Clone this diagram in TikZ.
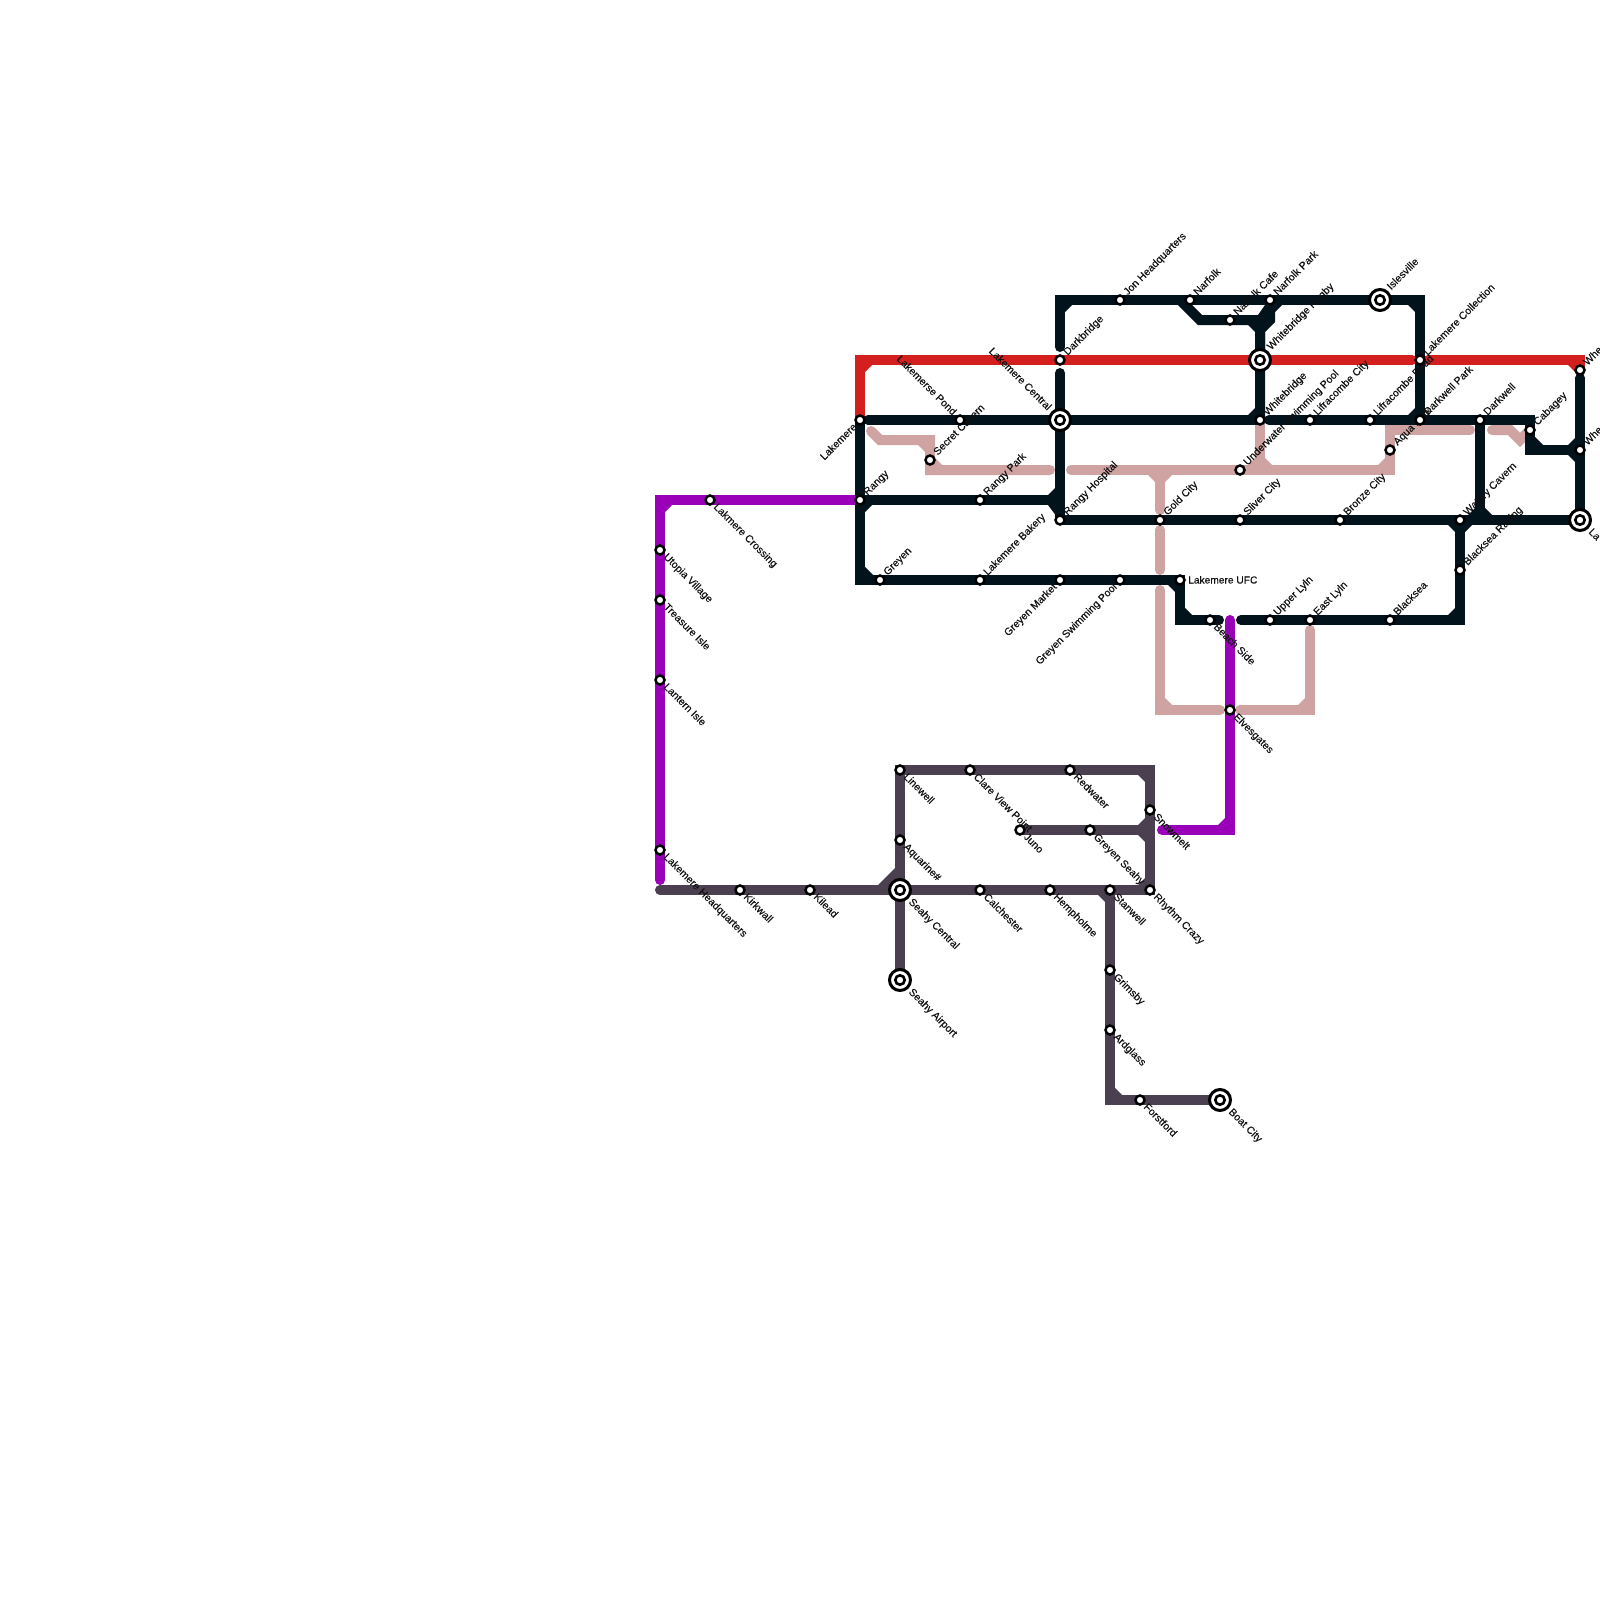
\documentclass[tikz,border=0pt]{standalone}
\usepackage{fontspec}
\setmainfont{Liberation Sans}
\newfontfamily\lblfont[FakeBold=0.25]{Liberation Sans}
\usetikzlibrary{calc}
\pgfdeclarelayer{bg}
\pgfsetlayers{bg,main}
\definecolor{cdark}{HTML}{03131C}
\definecolor{cred}{HTML}{D41F1F}
\definecolor{cpink}{HTML}{D0A3A3}
\definecolor{cpurple}{HTML}{9900B8}
\definecolor{cgrey}{HTML}{4B404F}
\definecolor{ctext}{HTML}{111111}
\tikzset{
  route/.style={line width=10pt,line cap=round,line join=miter},
  stopnode/.style={circle,draw=black,fill=white,line width=2.5pt,minimum size=9pt,inner sep=0pt},
  hubnode/.style={circle,draw=black,fill=white,line width=3pt,minimum size=21pt,inner sep=0pt,
    path picture={\draw[black,line width=2.6pt] (path picture bounding box.center) circle (4.7pt);}},
  lbl/.style={inner sep=0pt,text=ctext,font=\lblfont\fontsize{10.5}{12}\selectfont},
  lur/.style={xshift=7.5pt,yshift=4pt,rotate=45,anchor=base west},
  ldr/.style={xshift=3pt,yshift=-7.5pt,rotate=-45,anchor=base west},
  ldl/.style={xshift=-2.5pt,yshift=-7.5pt,rotate=45,anchor=base east},
  lul/.style={xshift=-7.5pt,yshift=4pt,rotate=-45,anchor=base east},
  lrt/.style={xshift=8pt,yshift=-3.5pt,anchor=base west,font=\lblfont\fontsize{10.2}{12}\selectfont},
  iur/.style={xshift=11pt,yshift=9.5pt,rotate=45,anchor=base west},
  idr/.style={xshift=8pt,yshift=-12.5pt,rotate=-45,anchor=base west},
  iul/.style={xshift=-12.5pt,yshift=9pt,rotate=-45,anchor=base east},
}
\newcommand\stopat[5]{\node[stopnode] (#1) at (#2,#3) {};\node[lbl,#4] (#1-l) at (#1.center) {#5};}
\newcommand\hubat[5]{\node[hubnode] (#1) at (#2,#3) {};\node[lbl,#4] (#1-l) at (#1.center) {#5};}
\newcommand\cham[6][7]{\fill[#2] (#3,#4) -- ++({#5*#1},0) -- ++({-#5*#1},{#6*#1}) -- cycle;}
\begin{document}
\begin{tikzpicture}[x=1pt,y=-1pt]
\useasboundingbox (0,0) rectangle (1600,1600);
% free points of the routes
\foreach \n/\x/\y in {
  rA/860/360, rB/1412/360, rC/1428/360, rD/1580/360,
  p1/871/431, p2/880/440, p3/930/440, p4/930/470, p5/1050/470,
  p6/1071/470, p7/1390/470, p8/1390/430, p9/1470/430,
  p10/1492/430, p11/1510/430, p12/1520/440,
  p13/1260/470, p14/1160/470, p15/1160/510, p16/1160/530, p17/1160/570,
  p18/1160/590, p19/1160/710, p20/1220/710, p21/1240/710, p22/1310/710, p23/1310/630,
  m1/660/500, m2/660/880, m3/1230/620, m4/1230/830, m5/1162/830,
  g1/660/890, g2/1150/770, g3/1150/830, g4/1110/1100,
  d1/1060/347, d2/1060/300, d3/1420/300, d4/1060/373,
  d5/1180/300, d6/1200/320, d7/1260/320, d8/1270/320, d9/1260/330,
  d10/868/420, d11/1269/420, d12/1530/420, d13/1530/450,
  d14/1580/378, d15/1060/500, d16/860/580, d17/1180/620, d18/1219/620,
  d19/1241/620, d20/1460/620, d21/1480/520} {\coordinate (\n) at (\x,\y);}
% stations
\stopat{lakemere}{860}{420}{ldl}{Lakemere}
\stopat{rangy}{860}{500}{lur}{Rangy}
\stopat{greyen}{880}{580}{lur}{Greyen}
\stopat{secret}{930}{460}{lur}{Secret Cavern}
\stopat{pond}{960}{420}{lul}{Lakemerse Pond}
\stopat{rangypark}{980}{500}{lur}{Rangy Park}
\stopat{bakery}{980}{580}{lur}{Lakemere Bakery}
\stopat{darkbridge}{1060}{360}{lur}{Darkbridge}
\hubat{central}{1060}{420}{iul}{Lakemere Central}
\stopat{hospital}{1060}{520}{lur}{Rangy Hospital}
\stopat{market}{1060}{580}{ldl}{Greyen Market}
\stopat{jon}{1120}{300}{lur}{Jon Headquarters}
\stopat{pool}{1120}{580}{ldl}{Greyen Swimming Pool}
\stopat{gold}{1160}{520}{lur}{Gold City}
\stopat{ufc}{1180}{580}{lrt}{Lakemere UFC}
\stopat{narfolk}{1190}{300}{lur}{Narfolk}
\stopat{beach}{1210}{620}{ldr}{Beach Side}
\stopat{cafe}{1230}{320}{lur}{Narfolk Cafe}
\stopat{elves}{1230}{710}{ldr}{Elvesgates}
\stopat{underwater}{1240}{470}{lur}{Underwater Swimming Pool}
\stopat{sliver}{1240}{520}{lur}{Sliver City}
\hubat{rugby}{1260}{360}{iur}{Whitebridge Rugby}
\stopat{whitebridge}{1260}{420}{lur}{Whitebridge}
\stopat{nfpark}{1270}{300}{lur}{Narfolk Park}
\stopat{upper}{1270}{620}{lur}{Upper Lyln}
\stopat{lifcity}{1310}{420}{lur}{Lifracombe City}
\stopat{east}{1310}{620}{lur}{East Lyln}
\stopat{bronze}{1340}{520}{lur}{Bronze City}
\stopat{lifroad}{1370}{420}{lur}{Lifracombe Road}
\hubat{isles}{1380}{300}{iur}{Islesville}
\stopat{aqua}{1390}{450}{lur}{Aqua Park}
\stopat{blacksea}{1390}{620}{lur}{Blacksea}
\stopat{collection}{1420}{360}{lur}{Lakemere Collection}
\stopat{dwpark}{1420}{420}{lur}{Darkwell Park}
\stopat{watery}{1460}{520}{lur}{Watery Cavern}
\stopat{racing}{1460}{570}{lur}{Blacksea Racing}
\stopat{darkwell}{1480}{420}{lur}{Darkwell}
\stopat{cabagey}{1530}{430}{lur}{Cabagey}
\stopat{wheA}{1580}{370}{lur}{Whe}
\stopat{wheB}{1580}{450}{lur}{Whe}
\hubat{la}{1580}{520}{idr}{La}
\stopat{crossing}{710}{500}{ldr}{Lakmere Crossing}
\stopat{utopia}{660}{550}{ldr}{Utopia Village}
\stopat{treasure}{660}{600}{ldr}{Treasure Isle}
\stopat{lantern}{660}{680}{ldr}{Lantern Isle}
\stopat{hq}{660}{850}{ldr}{Lakemere Headquarters}
\stopat{kirkwall}{740}{890}{ldr}{Kirkwall}
\stopat{kilead}{810}{890}{ldr}{Kilead}
\stopat{linewell}{900}{770}{ldr}{Linewell}
\stopat{clare}{970}{770}{ldr}{Clare View Point}
\stopat{redwater}{1070}{770}{ldr}{Redwater}
\stopat{juno}{1020}{830}{ldr}{Juno}
\stopat{gseahy}{1090}{830}{ldr}{Greyen Seahy}
\stopat{snow}{1150}{810}{ldr}{Snowmelt}
\stopat{aquarine}{900}{840}{ldr}{Aquarine\#}
\hubat{scentral}{900}{890}{idr}{Seahy Central}
\hubat{sairport}{900}{980}{idr}{Seahy Airport}
\stopat{calchester}{980}{890}{ldr}{Calchester}
\stopat{hempholme}{1050}{890}{ldr}{Hempholme}
\stopat{stanwell}{1110}{890}{ldr}{Stanwell}
\stopat{rhythm}{1150}{890}{ldr}{Rhythm Crazy}
\stopat{grimsby}{1110}{970}{ldr}{Grimsby}
\stopat{ardglass}{1110}{1030}{ldr}{Ardglass}
\stopat{forstford}{1140}{1100}{ldr}{Forstford}
\hubat{boat}{1220}{1100}{idr}{Boat City}
\begin{pgfonlayer}{bg}
\fill[white] (0,0) rectangle (1600,1600);
% red
\draw[route,cred] (lakemere.center) -- (rA) -- (darkbridge.center) -- (rugby.center) -- (rB);
\draw[route,cred] (rC) -- (rD) -- (wheA.center);
\cham{cred}{865}{365}{1}{1}
\cham{cred}{1575}{365}{-1}{1}
% pink
\draw[route,cpink] (p1) -- (p2) -- (p3) -- (secret.center) -- (p4) -- (p5);
\draw[route,cpink] (p6) -- (underwater.center) -- (p7) -- (aqua.center) -- (p8) -- (p9);
\draw[route,cpink] (p10) -- (p11) -- (p12) -- (cabagey.center);
\draw[route,cpink] (whitebridge.center) -- (p13);
\draw[route,cpink] (p14) -- (p15);
\draw[route,cpink] (p16) -- (p17);
\draw[route,cpink] (p18) -- (p19) -- (p20);
\draw[route,cpink] (p21) -- (p22) -- (p23);
\cham{cpink}{925}{445}{-1}{1}
\cham{cpink}{935}{465}{1}{-1}
\cham{cpink}{1255}{465}{-1}{-1}
\cham{cpink}{1265}{465}{1}{-1}
\cham{cpink}{1155}{475}{-1}{1}
\cham{cpink}{1165}{475}{1}{1}
\cham{cpink}{1385}{465}{-1}{-1}
\cham{cpink}{1165}{705}{1}{-1}
\cham{cpink}{1305}{705}{-1}{-1}
% purple
\draw[route,cpurple] (rangy.center) -- (crossing.center) -- (m1) -- (utopia.center) -- (treasure.center) -- (lantern.center) -- (hq.center) -- (m2);
\draw[route,cpurple] (m3) -- (elves.center) -- (m4) -- (m5);
\cham{cpurple}{665}{505}{1}{1}
\cham{cpurple}{1225}{825}{-1}{-1}
% grey
\draw[route,cgrey] (g1) -- (kirkwall.center) -- (kilead.center) -- (scentral.center) -- (calchester.center) -- (hempholme.center) -- (stanwell.center) -- (rhythm.center) -- (g3) -- (snow.center) -- (g2) -- (redwater.center) -- (clare.center) -- (linewell.center) -- (aquarine.center) -- (scentral.center) -- (sairport.center);
\draw[route,cgrey] (juno.center) -- (gseahy.center) -- (g3);
\draw[route,cgrey] (stanwell.center) -- (grimsby.center) -- (ardglass.center) -- (g4) -- (forstford.center) -- (boat.center);
\cham[17]{cgrey}{895}{885}{-1}{-1}
\cham{cgrey}{1145}{775}{-1}{1}
\cham{cgrey}{1145}{885}{-1}{-1}
\cham{cgrey}{1145}{825}{-1}{-1}
\cham{cgrey}{1145}{835}{-1}{1}
\cham{cgrey}{1105}{895}{-1}{1}
\cham{cgrey}{1115}{1095}{1}{-1}
% dark
\draw[route,cdark] (d1) -- (d2) -- (jon.center) -- (narfolk.center) -- (nfpark.center) -- (isles.center) -- (d3) -- (collection.center) -- (dwpark.center);
\draw[route,cdark] (d5) -- (d6) -- (cafe.center) -- (d7) -- (rugby.center) -- (whitebridge.center);
\draw[route,cdark] (nfpark.center) -- (d8) -- (d9) -- (rugby.center);
\draw[route,cdark] (d10) -- (pond.center) -- (central.center) -- (whitebridge.center);
\draw[route,cdark] (d11) -- (lifcity.center) -- (lifroad.center) -- (dwpark.center) -- (darkwell.center) -- (d12) -- (cabagey.center) -- (d13) -- (wheB.center);
\draw[route,cdark] (d14) -- (wheB.center) -- (la.center);
\draw[route,cdark] (d4) -- (central.center) -- (hospital.center);
\draw[route,cdark] (hospital.center) -- (gold.center) -- (sliver.center) -- (bronze.center) -- (watery.center) -- (d21) -- (la.center);
\draw[route,cdark] (darkwell.center) -- (d21);
\draw[route,cdark] (lakemere.center) -- (rangy.center) -- (d16) -- (greyen.center) -- (bakery.center) -- (market.center) -- (pool.center) -- (ufc.center) -- (d17) -- (beach.center) -- (d18);
\draw[route,cdark] (rangy.center) -- (rangypark.center) -- (d15);
\draw[route,cdark] (d19) -- (upper.center) -- (east.center) -- (blacksea.center) -- (d20) -- (racing.center) -- (watery.center);
\cham{cdark}{1065}{305}{1}{1}
\cham{cdark}{1275}{305}{1}{1}
\cham{cdark}{1415}{305}{-1}{1}
\cham{cdark}{1415}{415}{-1}{-1}
\cham{cdark}{1255}{415}{-1}{-1}
\cham{cdark}{1255}{325}{-1}{1}
\fill[cdark] (1265,305) -- (1265,315) -- (1258,315) -- cycle;
\cham{cdark}{1055}{495}{-1}{-1}
\fill[cdark] (1055,505) -- (1048,505) -- (1057,517) -- cycle;
\cham{cdark}{865}{505}{1}{1}
\cham[8]{cdark}{865}{575}{1}{-1}
\cham{cdark}{1175}{585}{-1}{1}
\cham{cdark}{1185}{615}{1}{-1}
\cham{cdark}{1455}{615}{-1}{-1}
\cham{cdark}{1455}{525}{-1}{1}
\cham{cdark}{1465}{525}{1}{1}
\cham{cdark}{1475}{515}{-1}{-1}
\cham{cdark}{1485}{515}{1}{-1}
\cham{cdark}{1575}{445}{-1}{-1}
\cham{cdark}{1575}{455}{-1}{1}
\cham[8]{cdark}{1535}{445}{1}{-1}
\end{pgfonlayer}
\end{tikzpicture}
\end{document}
